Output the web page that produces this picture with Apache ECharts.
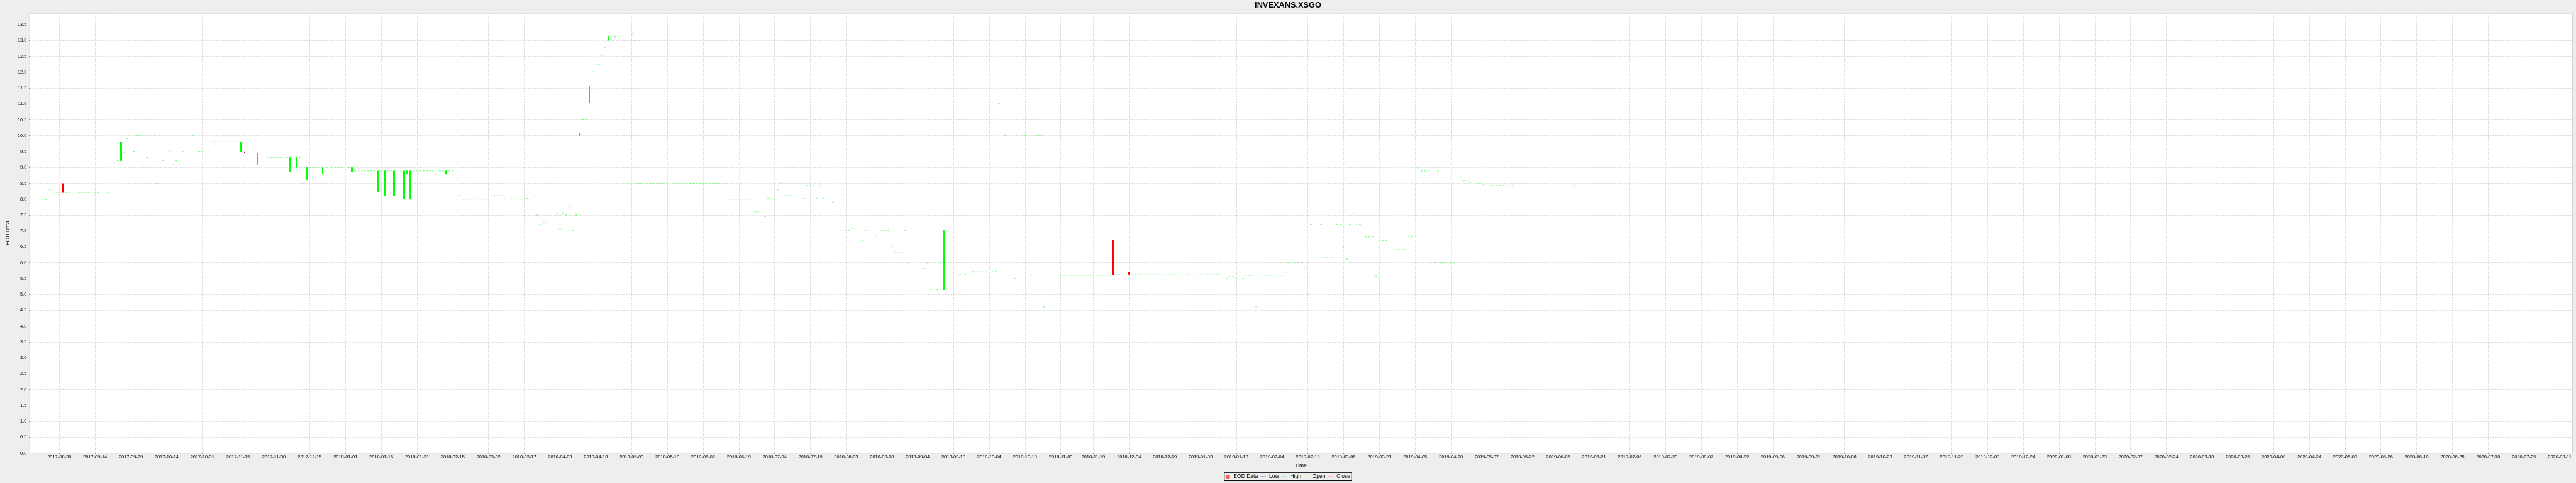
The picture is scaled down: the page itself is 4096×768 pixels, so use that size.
<!DOCTYPE html>
<html><head><meta charset="utf-8">
<script src="https://cdn.jsdelivr.net/npm/echarts@6/dist/echarts.min.js"></script>
<style>html,body{margin:0;padding:0;background:#eeeeee;overflow:hidden}#c{width:4096px;height:768px}</style>
</head><body><div id="c"></div>
<script>
// ---- data: x = trading-day (Mon-Fri) index counted from 2017-08-30 ----
const BASE_DATE = '2017-08-30';
const tickLabels = ['2017-08-30','2017-09-14','2017-09-29','2017-10-14','2017-10-31','2017-11-15','2017-11-30','2017-12-15',
'2018-01-01','2018-01-16','2018-01-31','2018-02-15','2018-03-02','2018-03-17','2018-04-03','2018-04-18','2018-05-03','2018-05-18',
'2018-06-02','2018-06-19','2018-07-04','2018-07-19','2018-08-03','2018-08-18','2018-09-04','2018-09-19','2018-10-04','2018-10-19',
'2018-11-03','2018-11-19','2018-12-04','2018-12-19','2019-01-03','2019-01-18','2019-02-04','2019-02-19','2019-03-06','2019-03-21',
'2019-04-05','2019-04-20','2019-05-07','2019-05-22','2019-06-06','2019-06-21','2019-07-06','2019-07-23','2019-08-07','2019-08-22',
'2019-09-06','2019-09-21','2019-10-08','2019-10-23','2019-11-07','2019-11-22','2019-12-09','2019-12-24','2020-01-08','2020-01-23',
'2020-02-07','2020-02-24','2020-03-10','2020-03-25','2020-04-09','2020-04-24','2020-05-09','2020-05-26','2020-06-10','2020-06-25',
'2020-07-10','2020-07-25','2020-08-11'];
const yTickLabels = ['0.0','0.5','1.0','1.5','2.0','2.5','3.0','3.5','4.0','4.5','5.0','5.5','6.0','6.5','7.0','7.5','8.0','8.5','9.0','9.5','10.0','10.5','11.0','11.5','12.0','12.5','13.0','13.5'];

// days where open = close = low = high
const flatDay = [
-9,-8,-7,-6,-5,-4,-3,-2,-1,0,
2,3,4,5,6,7,8,9,10,11,12,15,
16,17,18,20,21,22,23,24,25,26,27,29,
30,31,32,33,34,35,36,37,38,39,40,41,
43,44,46,47,48,49,50,51,52,53,54,55,
58,59,60,62,63,64,65,66,67,68,69,70,
74,75,77,78,79,80,82,84,85,86,87,89,
91,93,94,95,96,97,99,101,102,104,105,109,
110,111,112,113,114,115,116,117,118,120,121,122,
123,124,125,126,127,128,129,130,131,132,133,134,
135,136,137,138,139,140,141,142,143,144,145,146,
147,148,149,150,151,153,154,155,156,157,158,159,
161,162,164,165,166,167,168,170,171,172,173,175,
176,177,178,179,180,181,182,183,184,185,186,187,
189,190,191,192,193,194,195,196,197,198,199,200,
201,202,203,204,205,206,207,208,209,210,211,212,
213,214,215,216,217,218,220,221,222,223,224,225,
226,227,229,230,231,232,233,234,235,236,237,238,
239,240,241,242,243,244,245,246,247,248,249,251,
252,253,254,255,256,257,258,259,260,261,262,263,
264,265,266,267,268,269,270,271,276,277,278,279,
280,281,282,283,284,285,286,287,288,289,290,291,
292,294,295,296,297,298,299,300,301,302,303,304,
305,308,309,310,311,312,313,314,315,316,317,318,
319,320,321,322,323,325,326,327,328,330,331,332,
333,334,335,336,337,338,339,340,341,342,343,345,
346,347,350,351,352,353,354,355,356,357,358,359,
360,361,362,363,364,365,366,367,368,369,370,371,
372,373,374,375,376,377,378,379,380,381,382,383,
384,385,386,387,388,389,390,391,392,393,394,395,
396,397,398,399,400,402,403,404,405,406,407,408,
409,410,411,412,413,414,415,416,417,418,419,420,
421,422,423,424,425,426,428,429,430,431,432,433,
434,436,437,438,439,440,441,442,443,444,445,446,
447,466];
const flatPrice = [
8.31,8.31,8.00,8.00,8.00,7.98,8.31,8.31,8.21,8.21,
8.21,8.21,9.01,8.22,8.21,8.21,8.21,8.21,8.21,8.21,8.21,8.21,
8.80,9.16,9.21,9.46,9.91,9.01,9.51,10.00,10.00,9.11,9.31,10.00,
8.50,9.11,9.21,9.62,9.51,9.11,9.21,9.11,9.50,9.61,9.50,10.00,
9.51,9.50,9.50,9.81,9.81,9.81,9.81,9.81,9.81,9.81,9.81,9.81,
9.45,9.45,9.45,9.45,9.45,9.31,9.31,9.31,9.31,9.31,9.31,9.31,
9.31,8.50,9.00,9.00,9.00,9.00,9.00,9.00,9.00,9.00,9.00,9.00,
8.89,8.89,8.89,8.89,8.89,8.89,8.89,8.89,8.89,8.89,8.89,8.89,
8.89,8.89,8.89,8.89,8.89,8.89,8.89,8.89,8.89,8.89,8.89,8.00,
8.11,8.00,8.00,8.00,8.00,8.00,8.00,8.00,8.00,8.00,8.11,8.11,
8.11,8.11,8.00,7.31,8.00,8.00,8.00,8.00,8.00,8.02,8.00,8.11,
7.50,7.21,7.26,7.26,8.00,7.55,7.06,7.55,7.50,7.76,7.01,7.50,
10.50,10.50,12.01,12.23,12.25,12.53,12.77,13.13,13.11,13.15,13.13,8.50,
13.21,13.00,8.50,8.50,8.50,8.50,8.50,8.50,8.50,8.50,8.50,8.50,
8.50,8.50,8.50,8.50,8.50,8.50,8.50,8.50,8.50,8.50,8.50,8.50,
8.50,8.50,8.50,8.50,8.50,8.00,8.00,8.00,8.00,8.00,8.00,8.00,
8.00,7.60,7.60,7.26,7.45,8.02,7.98,8.30,8.51,8.11,8.11,8.11,
9.01,8.11,8.02,8.43,8.43,8.43,8.03,8.43,8.02,8.00,8.91,7.91,
8.00,8.00,8.00,7.02,7.02,7.08,7.04,6.62,6.70,7.02,5.01,6.81,
5.01,7.01,7.01,7.01,6.52,6.31,6.31,6.31,7.01,6.00,5.11,5.13,
5.81,5.81,5.82,6.00,5.15,5.17,5.15,6.00,4.00,5.62,5.65,5.62,
5.60,5.72,5.71,5.71,5.71,5.71,6.00,5.72,5.72,11.01,5.55,10.00,
5.26,5.50,5.55,10.00,10.00,5.26,5.60,10.00,10.00,10.00,4.61,5.60,
5.01,5.60,5.60,5.60,5.60,5.60,5.60,5.60,5.60,5.60,5.60,5.60,
5.60,5.60,5.60,5.60,5.60,5.64,5.64,5.64,5.64,5.64,5.64,5.64,
5.64,5.64,5.64,5.64,5.64,5.64,5.64,5.64,5.64,5.64,5.64,5.64,
5.64,5.64,5.64,5.64,5.64,5.64,5.64,5.64,5.64,5.64,5.11,5.50,
5.56,5.56,5.50,5.60,5.50,5.60,5.60,5.60,4.61,5.60,4.70,5.60,
5.60,5.60,5.60,5.60,5.60,5.70,6.00,5.70,6.00,6.00,6.00,5.81,
5.01,7.21,6.15,6.15,7.21,6.15,6.15,6.15,6.15,7.21,7.21,6.51,
6.11,7.21,7.55,7.21,7.21,6.81,6.81,6.81,5.57,6.70,6.70,6.70,
8.00,8.00,6.41,6.41,6.41,6.41,6.81,6.81,8.00,8.99,8.89,8.89,
8.89,6.00,6.00,8.88,6.00,6.00,6.00,6.00,8.76,8.69,8.58,8.57,
8.52,8.50,8.50,8.47,8.43,8.43,8.43,8.43,8.43,8.43,8.43,8.43,
8.43,8.43];

// days with a visible body or wick
const barDay   = [1,    19,   56,   57,   61,   71,   73,   76,   81,   90,   92,   98,   100,  103,  106,  107,  108,  119,  160,   163,   169,   272,  324,  329];
const barOpen  = [8.49, 9.21, 9.50, 9.50, 9.10, 8.87, 9.00, 8.60, 8.79, 8.86, 8.89, 8.22, 8.11, 8.11, 8.00, 8.79, 8.00, 8.79, 10.00, 11.04, 13.00, 5.15, 6.71, 5.70];
const barClose = [8.21, 9.81, 9.81, 9.45, 9.45, 9.31, 9.31, 9.00, 9.00, 9.00, 8.89, 8.89, 8.89, 8.89, 8.89, 8.89, 8.89, 8.89, 10.08, 11.57, 13.13, 7.01, 5.62, 5.63];
const barLow   = [8.21, 9.20, 9.50, 9.45, 9.10, 8.87, 9.00, 8.60, 8.79, 8.86, 8.09, 8.22, 8.11, 8.11, 8.00, 8.79, 8.00, 8.79, 10.00, 11.04, 13.00, 5.15, 5.62, 5.63];
const barHigh  = [8.49, 10.00,9.81, 9.50, 9.45, 9.31, 9.31, 9.00, 9.00, 9.00, 8.89, 8.89, 8.89, 8.89, 8.89, 8.89, 8.89, 8.89, 10.08, 11.57, 13.13, 7.01, 6.71, 5.70];

// ---- rendering ----
const S = 0.711;
const F = "'Liberation Sans', Arial, sans-serif";
const X_MIN = -9.06, X_MAX = 772.83, Y_MAX = 13.86;

// weekday (Mon-Fri) count from BASE_DATE up to the given date (weekend dates map to the next Monday)
function weekdayIndex(ds) {
  const p = s => { const a = s.split('-').map(Number); return Date.UTC(a[0], a[1] - 1, a[2]); };
  const t0 = p(BASE_DATE), t1 = p(ds), DAY = 86400000;
  let n = 0;
  for (let t = t0; t < t1; t += DAY) { const wd = new Date(t).getUTCDay(); if (wd !== 0 && wd !== 6) n++; }
  return n;
}
const tickDays = tickLabels.map(weekdayIndex);
const labelAt = {};
tickDays.forEach((d, i) => { labelAt[d] = tickLabels[i]; });
const yTickVals = yTickLabels.map(Number);

const dojiStyle = {color:'#6cff6c', color0:'#6cff6c', borderColor:'#6cff6c', borderColor0:'#6cff6c'};
const candles = [];
flatDay.forEach((d, i) => { const p = flatPrice[i]; candles.push({value:[d, p, p, p, p], itemStyle: dojiStyle}); });
barDay.forEach((d, i) => {
  const it = {value:[d, barOpen[i], barClose[i], barLow[i], barHigh[i]]};
  if (barOpen[i] === barClose[i]) it.itemStyle = {color:'#33ff33', color0:'#33ff33', borderColor:'#33ff33', borderColor0:'#33ff33'};
  candles.push(it);
});
candles.sort((a, b) => a.value[0] - b.value[0]);

const gridCol = '#d6d6d6';
const axisCol = '#909090';
const chart = echarts.init(document.getElementById('c'), null, {renderer:'canvas'});
chart.setOption({
  backgroundColor:'#eeeeee',
  animation:false,
  title:{text:'INVEXANS.XSGO', left:'center', top:2, padding:0,
    textStyle:{fontFamily:F, fontSize:18*S, fontWeight:'bold', color:'#000'}},
  legend:{
    left:'center', top:1056.7*S, orient:'horizontal',
    data:[
      {name:'EOD Data', icon:'path://M0,0H10V10H0Z', itemStyle:{color:'#ff5555', borderWidth:0}},
      {name:'Low', icon:'path://M0,0H20V1.4H0Z'},
      {name:'High', icon:'path://M0,0H20V1.4H0Z'},
      {name:'Open', icon:'path://M0,0H20V1.4H0Z'},
      {name:'Close', icon:'path://M0,0H20V1.4H0Z'}
    ],
    itemWidth:13*S, itemHeight:8*S, itemGap:5*S,
    textStyle:{fontFamily:F, fontSize:12*S, color:'#000'},
    borderColor:'#000', borderWidth:1, padding:[3*S, 3*S, 3*S, 3*S],
    backgroundColor:'rgba(0,0,0,0)'
  },
  grid:{left:59.3*S, right:4096-5752.3*S, top:29.3*S, bottom:768-1013.5*S,
    show:true, backgroundColor:'#ffffff', borderColor:'#a8a8a8', borderWidth:1},
  xAxis:{
    type:'value', min:X_MIN, max:X_MAX,
    name:'Time', nameLocation:'middle', nameGap:14.5,
    nameTextStyle:{fontFamily:F, fontSize:12*S, color:'#000'},
    axisLine:{show:true, onZero:false, lineStyle:{color:axisCol, width:1}},
    axisTick:{show:true, customValues:tickDays, length:2*S, lineStyle:{color:axisCol}},
    axisLabel:{customValues:tickDays, margin:3.2, color:'#000', fontFamily:F, fontSize:10.5*S,
      formatter:(v) => labelAt[Math.round(v)] || ''},
    splitLine:{show:true, lineStyle:{color:gridCol, width:1, type:[2,2]}}
  },
  yAxis:{
    type:'value', min:0, max:Y_MAX,
    name:'EOD Data', nameLocation:'middle', nameGap:22.5, nameRotate:90,
    nameTextStyle:{fontFamily:F, fontSize:12*S, color:'#000'},
    axisLine:{show:true, onZero:false, lineStyle:{color:axisCol, width:1}},
    axisTick:{show:true, customValues:yTickVals, length:2*S, lineStyle:{color:axisCol}},
    axisLabel:{customValues:yTickVals, margin:5, color:'#000', fontFamily:F, fontSize:10.5*S,
      formatter:(v) => yTickLabels[Math.round(v * 2)] || ''},
    splitLine:{show:true, lineStyle:{color:gridCol, width:1, type:[2,2]}}
  },
  series:[
    {name:'EOD Data', type:'candlestick', barWidth:2.2, encode:{x:0, y:[1,2,3,4]},
      itemStyle:{color:'#00ff00', color0:'#ff0000', borderColor:'#00ff00', borderColor0:'#ff0000', borderWidth:1},
      data:candles},
    {name:'Low', type:'line', data:[], itemStyle:{color:'#5555ff'}, lineStyle:{color:'#5555ff'}},
    {name:'High', type:'line', data:[], itemStyle:{color:'#55ff55'}, lineStyle:{color:'#55ff55'}},
    {name:'Open', type:'line', data:[], itemStyle:{color:'#ffff55'}, lineStyle:{color:'#ffff55'}},
    {name:'Close', type:'line', data:[], itemStyle:{color:'#ff55ff'}, lineStyle:{color:'#ff55ff'}}
  ]
});
</script></body></html>
